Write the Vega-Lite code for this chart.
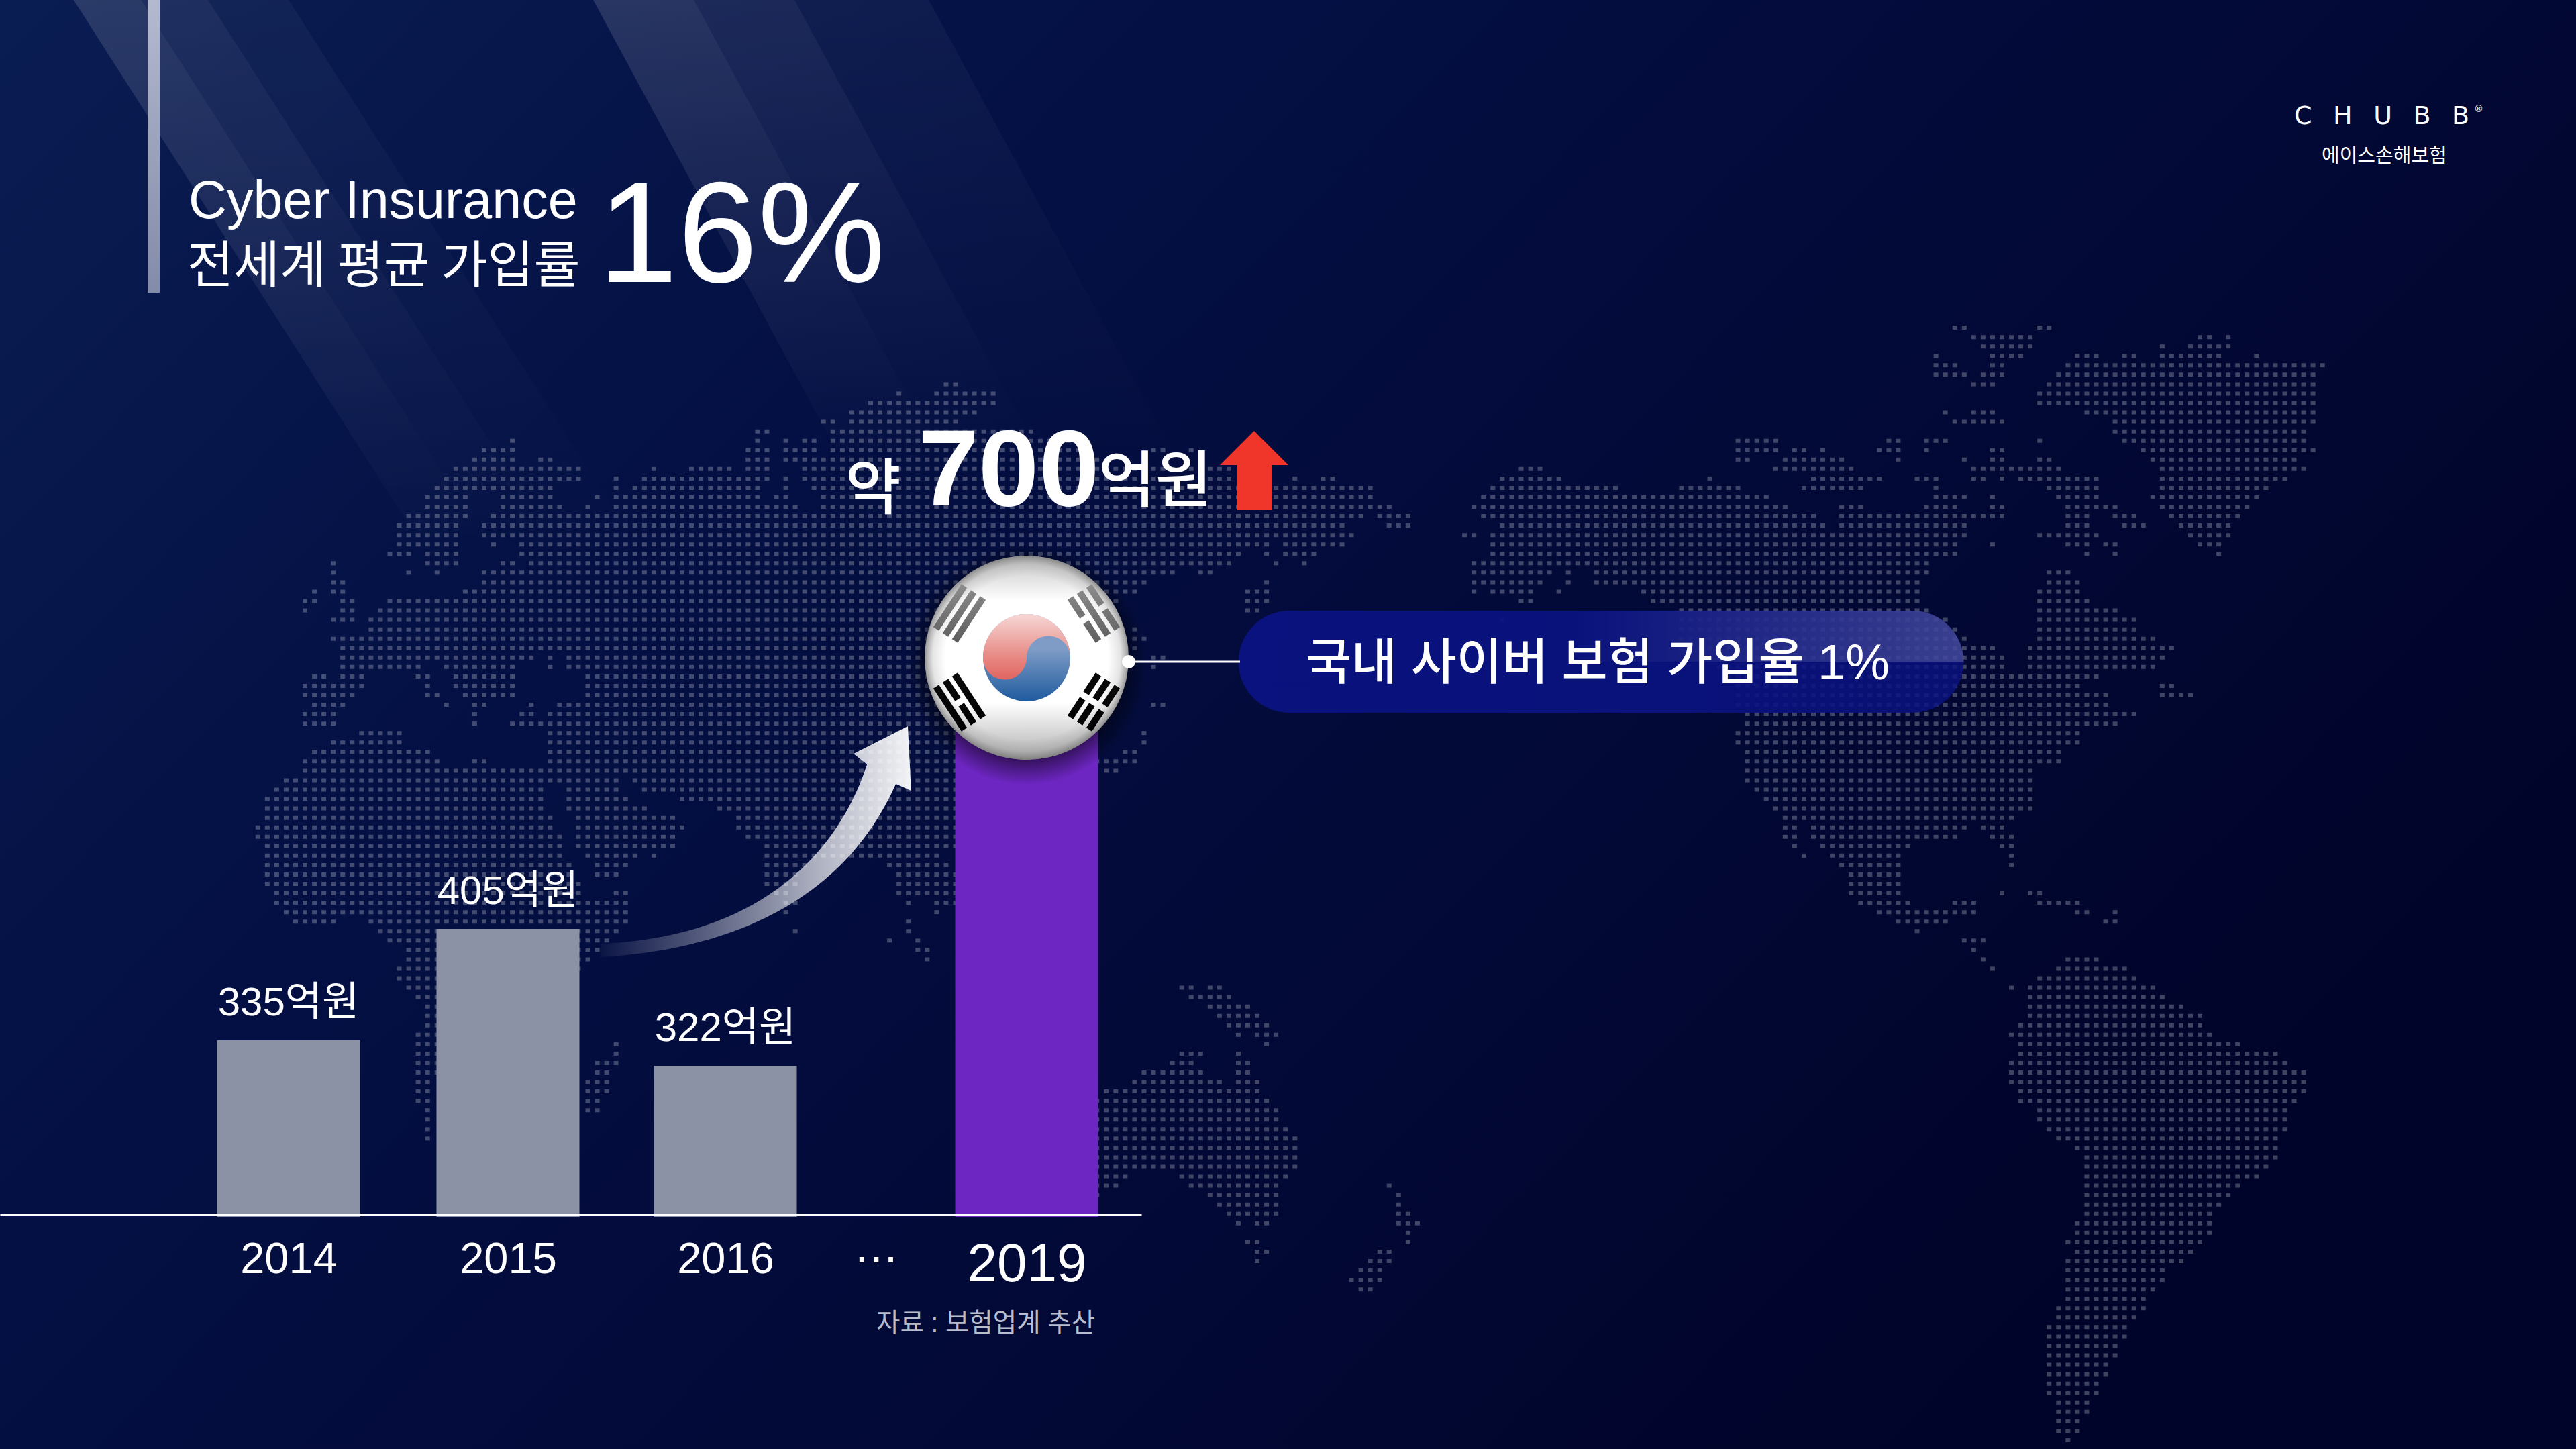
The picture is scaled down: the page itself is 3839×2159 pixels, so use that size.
{
"$schema":"https://vega.github.io/schema/vega-lite/v6.json",
"width":3839,"height":2159,"padding":0,"autosize":"none","background":"#020835",
"config":{"view":{"stroke":null}},
"resolve":{"scale":{"x":"independent","y":"independent"}},
"layer":[
{"data":{"values":[{}]},"layer":[
{"mark":{"type":"rect","fill":{"gradient":"linear","x1":0,"y1":0,"x2":1,"y2":0.55,"stops":[{"offset":0,"color":"#0a1d52"},{"offset":0.35,"color":"#041044"},{"offset":0.7,"color":"#020936"},{"offset":1,"color":"#01042a"}]}},
"encoding":{"x":{"datum":0,"type":"quantitative","axis":null,"scale":{"domain":[0,1],"nice":false}},"x2":{"datum":1},"y":{"datum":0,"type":"quantitative","axis":null,"scale":{"domain":[1,0],"nice":false}},"y2":{"datum":1}}},
{"mark":{"type":"point","filled":true,"opacity":1,"strokeWidth":0,"size":810000,"shape":"M-.756,-.922L-.533,-.922L.644,.922L.422,.922Z","fill":{"gradient":"linear","x1":0,"y1":0,"x2":0,"y2":1,"stops":[{"offset":0,"color":"rgba(255,255,255,0.05)"},{"offset":1,"color":"rgba(255,255,255,0)"}]}},
"encoding":{"x":{"datum":0.1172,"type":"quantitative","axis":null},"y":{"datum":0.1922,"type":"quantitative","axis":null}}},
{"mark":{"type":"point","filled":true,"opacity":1,"strokeWidth":0,"size":810000,"shape":"M-.756,-.922L-.311,-.922L.867,.922L.422,.922Z","fill":{"gradient":"linear","x1":0,"y1":0,"x2":0,"y2":1,"stops":[{"offset":0,"color":"rgba(255,255,255,0.05)"},{"offset":1,"color":"rgba(255,255,255,0)"}]}},
"encoding":{"x":{"datum":0.1172,"type":"quantitative","axis":null},"y":{"datum":0.1922,"type":"quantitative","axis":null}}},
{"mark":{"type":"point","filled":true,"opacity":1,"strokeWidth":0,"size":810000,"shape":"M-.756,-.922L-.044,-.922L1.133,.922L.422,.922Z","fill":{"gradient":"linear","x1":0,"y1":0,"x2":0,"y2":1,"stops":[{"offset":0,"color":"rgba(255,255,255,0.04)"},{"offset":1,"color":"rgba(255,255,255,0)"}]}},
"encoding":{"x":{"datum":0.1172,"type":"quantitative","axis":null},"y":{"datum":0.1922,"type":"quantitative","axis":null}}},
{"mark":{"type":"point","filled":true,"opacity":1,"strokeWidth":0,"size":640000,"shape":"M-.8325,-.875L-.4575,-.875L.4875,.875L.1125,.875Z","fill":{"gradient":"linear","x1":0,"y1":0,"x2":0,"y2":1,"stops":[{"offset":0,"color":"rgba(255,255,255,0.05)"},{"offset":1,"color":"rgba(255,255,255,0)"}]}},
"encoding":{"x":{"datum":0.317,"type":"quantitative","axis":null},"y":{"datum":0.162,"type":"quantitative","axis":null}}},
{"mark":{"type":"point","filled":true,"opacity":1,"strokeWidth":0,"size":640000,"shape":"M-.8325,-.875L-.0825,-.875L.8625,.875L.1125,.875Z","fill":{"gradient":"linear","x1":0,"y1":0,"x2":0,"y2":1,"stops":[{"offset":0,"color":"rgba(255,255,255,0.05)"},{"offset":1,"color":"rgba(255,255,255,0)"}]}},
"encoding":{"x":{"datum":0.317,"type":"quantitative","axis":null},"y":{"datum":0.162,"type":"quantitative","axis":null}}},
{"mark":{"type":"point","filled":true,"opacity":1,"strokeWidth":0,"size":640000,"shape":"M-.8325,-.875L.4175,-.875L1.3625,.875L.1125,.875Z","fill":{"gradient":"linear","x1":0,"y1":0,"x2":0,"y2":1,"stops":[{"offset":0,"color":"rgba(255,255,255,0.04)"},{"offset":1,"color":"rgba(255,255,255,0)"}]}},
"encoding":{"x":{"datum":0.317,"type":"quantitative","axis":null},"y":{"datum":0.162,"type":"quantitative","axis":null}}}
]},
{"data":{"values":[
{"row":-12,"c1":182,"c2":184},{"row":-12,"c1":191,"c2":193},
{"row":-11,"c1":184,"c2":191},{"row":-11,"c1":208,"c2":210},{"row":-11,"c1":211,"c2":212},
{"row":-10,"c1":185,"c2":191},{"row":-10,"c1":204,"c2":205},{"row":-10,"c1":207,"c2":212},
{"row":-9,"c1":180,"c2":181},{"row":-9,"c1":186,"c2":190},{"row":-9,"c1":195,"c2":198},{"row":-9,"c1":200,"c2":202},{"row":-9,"c1":204,"c2":211},{"row":-9,"c1":214,"c2":215},
{"row":-8,"c1":180,"c2":183},{"row":-8,"c1":186,"c2":188},{"row":-8,"c1":194,"c2":222},
{"row":-7,"c1":180,"c2":184},{"row":-7,"c1":185,"c2":188},{"row":-7,"c1":193,"c2":221},
{"row":-6,"c1":75,"c2":77},{"row":-6,"c1":184,"c2":187},{"row":-6,"c1":192,"c2":221},
{"row":-5,"c1":70,"c2":71},{"row":-5,"c1":74,"c2":81},{"row":-5,"c1":191,"c2":221},
{"row":-4,"c1":67,"c2":81},{"row":-4,"c1":191,"c2":221},
{"row":-3,"c1":65,"c2":79},{"row":-3,"c1":181,"c2":182},{"row":-3,"c1":184,"c2":187},{"row":-3,"c1":196,"c2":221},
{"row":-2,"c1":62,"c2":64},{"row":-2,"c1":65,"c2":77},{"row":-2,"c1":182,"c2":188},{"row":-2,"c1":199,"c2":221},
{"row":-1,"c1":55,"c2":57},{"row":-1,"c1":63,"c2":85},{"row":-1,"c1":199,"c2":220},
{"row":0,"c1":29,"c2":30},{"row":0,"c1":55,"c2":56},{"row":0,"c1":58,"c2":59},{"row":0,"c1":60,"c2":62},{"row":0,"c1":63,"c2":90},{"row":0,"c1":159,"c2":164},{"row":0,"c1":175,"c2":177},{"row":0,"c1":179,"c2":182},{"row":0,"c1":191,"c2":192},{"row":0,"c1":200,"c2":220},
{"row":1,"c1":26,"c2":30},{"row":1,"c1":54,"c2":57},{"row":1,"c1":58,"c2":62},{"row":1,"c1":63,"c2":90},{"row":1,"c1":97,"c2":99},{"row":1,"c1":101,"c2":102},{"row":1,"c1":159,"c2":164},{"row":1,"c1":165,"c2":167},{"row":1,"c1":168,"c2":169},{"row":1,"c1":174,"c2":177},{"row":1,"c1":179,"c2":180},{"row":1,"c1":186,"c2":188},{"row":1,"c1":202,"c2":221},
{"row":2,"c1":25,"c2":30},{"row":2,"c1":32,"c2":34},{"row":2,"c1":54,"c2":57},{"row":2,"c1":58,"c2":92},{"row":2,"c1":159,"c2":161},{"row":2,"c1":164,"c2":171},{"row":2,"c1":176,"c2":177},{"row":2,"c1":183,"c2":184},{"row":2,"c1":186,"c2":188},{"row":2,"c1":191,"c2":193},{"row":2,"c1":203,"c2":219},
{"row":3,"c1":23,"c2":37},{"row":3,"c1":44,"c2":45},{"row":3,"c1":48,"c2":53},{"row":3,"c1":54,"c2":57},{"row":3,"c1":60,"c2":106},{"row":3,"c1":136,"c2":139},{"row":3,"c1":163,"c2":172},{"row":3,"c1":184,"c2":194},{"row":3,"c1":204,"c2":220},
{"row":4,"c1":22,"c2":37},{"row":4,"c1":40,"c2":41},{"row":4,"c1":43,"c2":57},{"row":4,"c1":58,"c2":59},{"row":4,"c1":60,"c2":106},{"row":4,"c1":112,"c2":113},{"row":4,"c1":115,"c2":117},{"row":4,"c1":134,"c2":141},{"row":4,"c1":156,"c2":157},{"row":4,"c1":167,"c2":175},{"row":4,"c1":178,"c2":181},{"row":4,"c1":184,"c2":186},{"row":4,"c1":187,"c2":188},{"row":4,"c1":189,"c2":198},{"row":4,"c1":204,"c2":218},
{"row":5,"c1":21,"c2":34},{"row":5,"c1":40,"c2":41},{"row":5,"c1":42,"c2":56},{"row":5,"c1":58,"c2":59},{"row":5,"c1":61,"c2":121},{"row":5,"c1":133,"c2":147},{"row":5,"c1":153,"c2":160},{"row":5,"c1":166,"c2":173},{"row":5,"c1":180,"c2":181},{"row":5,"c1":192,"c2":198},{"row":5,"c1":204,"c2":216},
{"row":6,"c1":20,"c2":25},{"row":6,"c1":28,"c2":34},{"row":6,"c1":38,"c2":39},{"row":6,"c1":40,"c2":56},{"row":6,"c1":57,"c2":59},{"row":6,"c1":62,"c2":121},{"row":6,"c1":132,"c2":163},{"row":6,"c1":180,"c2":184},{"row":6,"c1":186,"c2":187},{"row":6,"c1":193,"c2":198},{"row":6,"c1":203,"c2":215},
{"row":7,"c1":20,"c2":25},{"row":7,"c1":28,"c2":35},{"row":7,"c1":37,"c2":38},{"row":7,"c1":40,"c2":60},{"row":7,"c1":62,"c2":123},{"row":7,"c1":131,"c2":165},{"row":7,"c1":170,"c2":173},{"row":7,"c1":179,"c2":183},{"row":7,"c1":186,"c2":188},{"row":7,"c1":194,"c2":200},{"row":7,"c1":204,"c2":214},
{"row":8,"c1":18,"c2":25},{"row":8,"c1":27,"c2":120},{"row":8,"c1":121,"c2":125},{"row":8,"c1":132,"c2":168},{"row":8,"c1":170,"c2":188},{"row":8,"c1":194,"c2":197},{"row":8,"c1":199,"c2":202},{"row":8,"c1":205,"c2":213},
{"row":9,"c1":17,"c2":24},{"row":9,"c1":26,"c2":118},{"row":9,"c1":122,"c2":125},{"row":9,"c1":134,"c2":169},{"row":9,"c1":170,"c2":184},{"row":9,"c1":194,"c2":197},{"row":9,"c1":200,"c2":203},{"row":9,"c1":206,"c2":212},
{"row":10,"c1":17,"c2":24},{"row":10,"c1":26,"c2":119},{"row":10,"c1":130,"c2":132},{"row":10,"c1":133,"c2":184},{"row":10,"c1":191,"c2":198},{"row":10,"c1":207,"c2":212},
{"row":11,"c1":17,"c2":24},{"row":11,"c1":27,"c2":28},{"row":11,"c1":30,"c2":110},{"row":11,"c1":111,"c2":118},{"row":11,"c1":133,"c2":183},{"row":11,"c1":186,"c2":187},{"row":11,"c1":194,"c2":197},{"row":11,"c1":198,"c2":200},{"row":11,"c1":208,"c2":211},
{"row":12,"c1":16,"c2":19},{"row":12,"c1":20,"c2":24},{"row":12,"c1":30,"c2":107},{"row":12,"c1":109,"c2":110},{"row":12,"c1":111,"c2":115},{"row":12,"c1":133,"c2":183},{"row":12,"c1":196,"c2":197},{"row":12,"c1":199,"c2":200},{"row":12,"c1":210,"c2":211},
{"row":13,"c1":10,"c2":11},{"row":13,"c1":20,"c2":24},{"row":13,"c1":28,"c2":30},{"row":13,"c1":31,"c2":106},{"row":13,"c1":110,"c2":111},{"row":13,"c1":113,"c2":114},{"row":13,"c1":131,"c2":180},
{"row":14,"c1":10,"c2":11},{"row":14,"c1":18,"c2":19},{"row":14,"c1":21,"c2":22},{"row":14,"c1":26,"c2":100},{"row":14,"c1":102,"c2":104},{"row":14,"c1":131,"c2":140},{"row":14,"c1":141,"c2":142},{"row":14,"c1":144,"c2":180},{"row":14,"c1":192,"c2":195},
{"row":15,"c1":10,"c2":12},{"row":15,"c1":26,"c2":97},{"row":15,"c1":109,"c2":110},{"row":15,"c1":131,"c2":139},{"row":15,"c1":141,"c2":142},{"row":15,"c1":144,"c2":179},{"row":15,"c1":192,"c2":196},
{"row":16,"c1":8,"c2":9},{"row":16,"c1":10,"c2":12},{"row":16,"c1":24,"c2":96},{"row":16,"c1":107,"c2":110},{"row":16,"c1":131,"c2":132},{"row":16,"c1":133,"c2":138},{"row":16,"c1":140,"c2":141},{"row":16,"c1":149,"c2":179},{"row":16,"c1":191,"c2":196},
{"row":17,"c1":7,"c2":9},{"row":17,"c1":11,"c2":13},{"row":17,"c1":16,"c2":94},{"row":17,"c1":107,"c2":110},{"row":17,"c1":136,"c2":138},{"row":17,"c1":150,"c2":179},{"row":17,"c1":191,"c2":197},
{"row":18,"c1":7,"c2":8},{"row":18,"c1":11,"c2":13},{"row":18,"c1":15,"c2":93},{"row":18,"c1":107,"c2":109},{"row":18,"c1":153,"c2":180},{"row":18,"c1":191,"c2":200},
{"row":19,"c1":10,"c2":13},{"row":19,"c1":14,"c2":91},{"row":19,"c1":134,"c2":135},{"row":19,"c1":153,"c2":182},{"row":19,"c1":191,"c2":202},
{"row":20,"c1":14,"c2":91},{"row":20,"c1":95,"c2":96},{"row":20,"c1":153,"c2":183},{"row":20,"c1":191,"c2":202},
{"row":21,"c1":10,"c2":91},{"row":21,"c1":95,"c2":97},{"row":21,"c1":153,"c2":184},{"row":21,"c1":191,"c2":204},
{"row":22,"c1":11,"c2":91},{"row":22,"c1":95,"c2":96},{"row":22,"c1":153,"c2":187},{"row":22,"c1":190,"c2":206},
{"row":23,"c1":11,"c2":32},{"row":23,"c1":33,"c2":34},{"row":23,"c1":35,"c2":91},{"row":23,"c1":97,"c2":99},{"row":23,"c1":155,"c2":188},{"row":23,"c1":190,"c2":205},
{"row":24,"c1":11,"c2":20},{"row":24,"c1":22,"c2":30},{"row":24,"c1":33,"c2":34},{"row":24,"c1":35,"c2":91},{"row":24,"c1":97,"c2":98},{"row":24,"c1":157,"c2":188},{"row":24,"c1":190,"c2":204},
{"row":25,"c1":8,"c2":10},{"row":25,"c1":11,"c2":14},{"row":25,"c1":19,"c2":21},{"row":25,"c1":23,"c2":30},{"row":25,"c1":37,"c2":91},{"row":25,"c1":158,"c2":198},
{"row":26,"c1":7,"c2":14},{"row":26,"c1":20,"c2":21},{"row":26,"c1":23,"c2":30},{"row":26,"c1":37,"c2":91},{"row":26,"c1":159,"c2":196},{"row":26,"c1":204,"c2":206},
{"row":27,"c1":7,"c2":13},{"row":27,"c1":20,"c2":22},{"row":27,"c1":24,"c2":30},{"row":27,"c1":37,"c2":91},{"row":27,"c1":159,"c2":199},{"row":27,"c1":204,"c2":208},
{"row":28,"c1":8,"c2":12},{"row":28,"c1":22,"c2":23},{"row":28,"c1":25,"c2":27},{"row":28,"c1":31,"c2":32},{"row":28,"c1":34,"c2":91},{"row":28,"c1":97,"c2":99},{"row":28,"c1":159,"c2":199},
{"row":29,"c1":7,"c2":11},{"row":29,"c1":25,"c2":26},{"row":29,"c1":30,"c2":32},{"row":29,"c1":33,"c2":91},{"row":29,"c1":160,"c2":202},
{"row":30,"c1":7,"c2":11},{"row":30,"c1":25,"c2":26},{"row":30,"c1":29,"c2":91},{"row":30,"c1":160,"c2":200},
{"row":31,"c1":13,"c2":18},{"row":31,"c1":33,"c2":91},{"row":31,"c1":96,"c2":97},{"row":31,"c1":159,"c2":196},
{"row":32,"c1":10,"c2":18},{"row":32,"c1":33,"c2":91},{"row":32,"c1":96,"c2":97},{"row":32,"c1":159,"c2":196},
{"row":33,"c1":8,"c2":21},{"row":33,"c1":33,"c2":91},{"row":33,"c1":94,"c2":96},{"row":33,"c1":160,"c2":194},
{"row":34,"c1":7,"c2":22},{"row":34,"c1":25,"c2":27},{"row":34,"c1":33,"c2":96},{"row":34,"c1":160,"c2":194},
{"row":35,"c1":7,"c2":91},{"row":35,"c1":92,"c2":94},{"row":35,"c1":160,"c2":191},
{"row":36,"c1":5,"c2":41},{"row":36,"c1":42,"c2":81},{"row":36,"c1":160,"c2":191},
{"row":37,"c1":4,"c2":33},{"row":37,"c1":35,"c2":41},{"row":37,"c1":43,"c2":81},{"row":37,"c1":161,"c2":191},
{"row":38,"c1":3,"c2":33},{"row":38,"c1":35,"c2":42},{"row":38,"c1":47,"c2":81},{"row":38,"c1":162,"c2":191},
{"row":39,"c1":3,"c2":33},{"row":39,"c1":35,"c2":44},{"row":39,"c1":51,"c2":81},{"row":39,"c1":163,"c2":191},
{"row":40,"c1":3,"c2":34},{"row":40,"c1":36,"c2":47},{"row":40,"c1":53,"c2":81},{"row":40,"c1":164,"c2":189},
{"row":41,"c1":2,"c2":34},{"row":41,"c1":36,"c2":48},{"row":41,"c1":53,"c2":79},{"row":41,"c1":164,"c2":166},{"row":41,"c1":167,"c2":184},{"row":41,"c1":185,"c2":188},
{"row":42,"c1":2,"c2":35},{"row":42,"c1":36,"c2":47},{"row":42,"c1":54,"c2":79},{"row":42,"c1":164,"c2":166},{"row":42,"c1":167,"c2":183},{"row":42,"c1":186,"c2":189},
{"row":43,"c1":3,"c2":35},{"row":43,"c1":36,"c2":47},{"row":43,"c1":56,"c2":79},{"row":43,"c1":165,"c2":166},{"row":43,"c1":168,"c2":178},{"row":43,"c1":187,"c2":189},
{"row":44,"c1":3,"c2":35},{"row":44,"c1":37,"c2":43},{"row":44,"c1":44,"c2":45},{"row":44,"c1":56,"c2":75},{"row":44,"c1":166,"c2":167},{"row":44,"c1":169,"c2":177},{"row":44,"c1":188,"c2":189},
{"row":45,"c1":3,"c2":36},{"row":45,"c1":38,"c2":42},{"row":45,"c1":56,"c2":61},{"row":45,"c1":69,"c2":76},{"row":45,"c1":170,"c2":177},{"row":45,"c1":188,"c2":189},
{"row":46,"c1":3,"c2":36},{"row":46,"c1":38,"c2":41},{"row":46,"c1":56,"c2":60},{"row":46,"c1":70,"c2":79},{"row":46,"c1":171,"c2":177},
{"row":47,"c1":3,"c2":37},{"row":47,"c1":56,"c2":60},{"row":47,"c1":70,"c2":79},{"row":47,"c1":171,"c2":177},
{"row":48,"c1":4,"c2":37},{"row":48,"c1":40,"c2":42},{"row":48,"c1":57,"c2":59},{"row":48,"c1":70,"c2":79},{"row":48,"c1":171,"c2":177},{"row":48,"c1":187,"c2":188},{"row":48,"c1":190,"c2":192},
{"row":49,"c1":4,"c2":42},{"row":49,"c1":58,"c2":60},{"row":49,"c1":71,"c2":72},{"row":49,"c1":74,"c2":79},{"row":49,"c1":172,"c2":178},{"row":49,"c1":182,"c2":185},{"row":49,"c1":191,"c2":196},
{"row":50,"c1":5,"c2":42},{"row":50,"c1":58,"c2":59},{"row":50,"c1":74,"c2":75},{"row":50,"c1":174,"c2":185},{"row":50,"c1":195,"c2":197},{"row":50,"c1":199,"c2":200},
{"row":51,"c1":6,"c2":11},{"row":51,"c1":14,"c2":42},{"row":51,"c1":71,"c2":72},{"row":51,"c1":176,"c2":182},{"row":51,"c1":198,"c2":200},
{"row":52,"c1":15,"c2":41},{"row":52,"c1":59,"c2":60},{"row":52,"c1":71,"c2":72},{"row":52,"c1":178,"c2":179},
{"row":53,"c1":16,"c2":40},{"row":53,"c1":69,"c2":70},{"row":53,"c1":72,"c2":73},{"row":53,"c1":183,"c2":186},
{"row":54,"c1":18,"c2":39},{"row":54,"c1":72,"c2":74},{"row":54,"c1":184,"c2":185},
{"row":55,"c1":18,"c2":38},{"row":55,"c1":73,"c2":74},{"row":55,"c1":185,"c2":186},{"row":55,"c1":194,"c2":198},
{"row":56,"c1":17,"c2":37},{"row":56,"c1":186,"c2":187},{"row":56,"c1":193,"c2":201},
{"row":57,"c1":17,"c2":23},{"row":57,"c1":191,"c2":202},
{"row":58,"c1":18,"c2":23},{"row":58,"c1":100,"c2":102},{"row":58,"c1":103,"c2":105},{"row":58,"c1":188,"c2":189},{"row":58,"c1":190,"c2":204},
{"row":59,"c1":19,"c2":23},{"row":59,"c1":101,"c2":106},{"row":59,"c1":190,"c2":205},
{"row":60,"c1":20,"c2":23},{"row":60,"c1":103,"c2":108},{"row":60,"c1":190,"c2":207},
{"row":61,"c1":20,"c2":23},{"row":61,"c1":104,"c2":109},{"row":61,"c1":190,"c2":209},
{"row":62,"c1":20,"c2":23},{"row":62,"c1":105,"c2":110},{"row":62,"c1":189,"c2":209},
{"row":63,"c1":19,"c2":23},{"row":63,"c1":106,"c2":107},{"row":63,"c1":108,"c2":111},{"row":63,"c1":188,"c2":210},
{"row":64,"c1":19,"c2":23},{"row":64,"c1":40,"c2":41},{"row":64,"c1":109,"c2":110},{"row":64,"c1":189,"c2":213},
{"row":65,"c1":19,"c2":22},{"row":65,"c1":40,"c2":41},{"row":65,"c1":100,"c2":103},{"row":65,"c1":106,"c2":107},{"row":65,"c1":189,"c2":217},
{"row":66,"c1":19,"c2":22},{"row":66,"c1":38,"c2":41},{"row":66,"c1":99,"c2":102},{"row":66,"c1":106,"c2":108},{"row":66,"c1":188,"c2":218},
{"row":67,"c1":19,"c2":22},{"row":67,"c1":38,"c2":40},{"row":67,"c1":96,"c2":103},{"row":67,"c1":106,"c2":108},{"row":67,"c1":188,"c2":220},
{"row":68,"c1":19,"c2":21},{"row":68,"c1":37,"c2":40},{"row":68,"c1":95,"c2":105},{"row":68,"c1":106,"c2":109},{"row":68,"c1":188,"c2":220},
{"row":69,"c1":19,"c2":21},{"row":69,"c1":37,"c2":40},{"row":69,"c1":92,"c2":109},{"row":69,"c1":189,"c2":220},
{"row":70,"c1":19,"c2":21},{"row":70,"c1":37,"c2":39},{"row":70,"c1":89,"c2":110},{"row":70,"c1":189,"c2":219},
{"row":71,"c1":20,"c2":21},{"row":71,"c1":37,"c2":39},{"row":71,"c1":89,"c2":111},{"row":71,"c1":191,"c2":218},
{"row":72,"c1":20,"c2":21},{"row":72,"c1":89,"c2":111},{"row":72,"c1":191,"c2":218},
{"row":73,"c1":20,"c2":21},{"row":73,"c1":89,"c2":112},{"row":73,"c1":192,"c2":218},
{"row":74,"c1":20,"c2":21},{"row":74,"c1":89,"c2":113},{"row":74,"c1":193,"c2":217},
{"row":75,"c1":89,"c2":113},{"row":75,"c1":195,"c2":217},
{"row":76,"c1":89,"c2":113},{"row":76,"c1":196,"c2":217},
{"row":77,"c1":89,"c2":113},{"row":77,"c1":196,"c2":216},
{"row":78,"c1":89,"c2":95},{"row":78,"c1":100,"c2":112},{"row":78,"c1":196,"c2":215},
{"row":79,"c1":89,"c2":94},{"row":79,"c1":101,"c2":111},{"row":79,"c1":122,"c2":123},{"row":79,"c1":196,"c2":213},
{"row":80,"c1":89,"c2":92},{"row":80,"c1":103,"c2":111},{"row":80,"c1":123,"c2":124},{"row":80,"c1":196,"c2":212},
{"row":81,"c1":104,"c2":111},{"row":81,"c1":123,"c2":124},{"row":81,"c1":196,"c2":211},
{"row":82,"c1":105,"c2":111},{"row":82,"c1":123,"c2":125},{"row":82,"c1":196,"c2":210},
{"row":83,"c1":106,"c2":107},{"row":83,"c1":108,"c2":110},{"row":83,"c1":123,"c2":126},{"row":83,"c1":195,"c2":210},
{"row":84,"c1":124,"c2":125},{"row":84,"c1":195,"c2":210},
{"row":85,"c1":107,"c2":109},{"row":85,"c1":124,"c2":125},{"row":85,"c1":194,"c2":209},
{"row":86,"c1":108,"c2":110},{"row":86,"c1":121,"c2":123},{"row":86,"c1":195,"c2":208},
{"row":87,"c1":108,"c2":109},{"row":87,"c1":120,"c2":123},{"row":87,"c1":194,"c2":207},
{"row":88,"c1":119,"c2":122},{"row":88,"c1":194,"c2":205},
{"row":89,"c1":118,"c2":122},{"row":89,"c1":194,"c2":205},
{"row":90,"c1":119,"c2":121},{"row":90,"c1":194,"c2":204},
{"row":91,"c1":194,"c2":203},{"row":92,"c1":193,"c2":203},{"row":93,"c1":193,"c2":202},{"row":94,"c1":192,"c2":201},{"row":95,"c1":192,"c2":201},{"row":96,"c1":192,"c2":200},{"row":97,"c1":192,"c2":200},{"row":98,"c1":192,"c2":199},{"row":99,"c1":192,"c2":199},{"row":100,"c1":192,"c2":198},{"row":101,"c1":192,"c2":198},{"row":102,"c1":193,"c2":197},{"row":103,"c1":193,"c2":197},{"row":104,"c1":193,"c2":196},{"row":105,"c1":193,"c2":196},{"row":106,"c1":194,"c2":195}
]},
"mark":{"type":"rule","stroke":"#ffffff","strokeOpacity":0.25,"strokeWidth":6,"strokeDash":[7,7.05]},
"encoding":{"x":{"field":"c1","type":"quantitative","axis":null,"scale":{"domain":[-25.103,248.14],"nice":false,"zero":false}},"x2":{"field":"c2"},"y":{"field":"row","type":"quantitative","axis":null,"scale":{"domain":[106.93,-46.74],"nice":false,"zero":false}}}},
{"data":{"values":[{"year":2014,"amount":335},{"year":2015,"amount":405},{"year":2016,"amount":322},{"year":2019,"amount":700}]},
"mark":{"type":"bar","orient":"vertical","size":213},
"encoding":{
"x":{"field":"year","type":"quantitative","scale":{"domain":[2012.685,2014,2015,2016,2019,2019.382],"range":[0,430,757,1081,1530,1701],"nice":false,"zero":false},
"axis":{"values":[2014,2015,2016,2017.5,2019],"labelExpr":"datum.value==2017.5?'⋯':datum.value","title":null,"grid":false,"ticks":false,"domainColor":"#ffffff","domainWidth":3,"offset":-349,"labelColor":"#ffffff","labelFont":"Liberation Sans, DejaVu Sans","labelFontSize":{"condition":{"test":"datum.value==2019","value":80},"value":65},"labelPadding":35,"labelBaseline":"top","labelOverlap":false,"labelBound":false,"labelFlush":false,"zindex":1}},
"y":{"field":"amount","type":"quantitative","stack":null,"axis":null,"scale":{"domain":[0,322,335,405,700],"range":[1813,1588,1550,1384,1090],"nice":false,"zero":false}},
"y2":{"datum":0},
"color":{"condition":{"test":"datum.year==2019","value":"#6d26c2"},"value":"#8c92a6"}}},
{"data":{"values":[{}]},"layer":[
{"data":{"values":[{"year":2014,"amount":335,"label":"335억원"},{"year":2015,"amount":405,"label":"405억원"},{"year":2016,"amount":322,"label":"322억원"}]},
"mark":{"type":"text","baseline":"alphabetic","dy":-37,"fontSize":60,"fill":"#ffffff","font":"Liberation Sans, Noto Sans CJK KR"},
"encoding":{"x":{"field":"year","type":"quantitative","axis":null,"scale":{"domain":[2012.685,2014,2015,2016,2019,2019.382],"range":[0,430,757,1081,1530,1701],"nice":false,"zero":false}},"y":{"field":"amount","type":"quantitative","axis":null,"scale":{"domain":[0,322,335,405,700],"range":[1813,1588,1550,1384,1090],"nice":false,"zero":false}},"text":{"field":"label"}}},
{"mark":{"type":"point","filled":true,"opacity":1,"strokeWidth":0,"size":190096,"shape":"M-.0413,-1L.0413,-1L.0413,1L-.0413,1Z","xOffset":-201,"yOffset":-872,"fill":{"gradient":"linear","x1":0,"y1":0,"x2":0,"y2":1,"stops":[{"offset":0,"color":"#b3bad0"},{"offset":1,"color":"#828ba8"}]}},
"encoding":{"x":{"datum":2014,"type":"quantitative","axis":null},"y":{"datum":700,"type":"quantitative","axis":null}}},
{"mark":{"type":"point","filled":true,"opacity":1,"strokeWidth":0,"size":1168561,"shape":"M-.859,-.1406L.859,-.1406A.1406,.1406 0 0 1 .859,.1406L-.859,.1406A.1406,.1406 0 0 1 -.859,-.1406Z","xOffset":856,"yOffset":-104,"fill":{"gradient":"linear","x1":0,"y1":0,"x2":1,"y2":0,"stops":[{"offset":0,"color":"rgba(10,18,128,0.98)"},{"offset":0.6,"color":"rgba(10,18,128,0.93)"},{"offset":1,"color":"rgba(10,18,128,0.82)"}]}},
"encoding":{"x":{"datum":2019,"type":"quantitative","axis":null},"y":{"datum":700,"type":"quantitative","axis":null}}},
{"mark":{"type":"point","filled":true,"opacity":1,"strokeWidth":0,"size":1168561,"shape":"M-.08,-.1406L.859,-.1406A.1406,.1406 0 0 1 1,0L-.08,0Z","xOffset":856,"yOffset":-104,"fill":{"gradient":"linear","x1":0,"y1":0,"x2":1,"y2":0,"stops":[{"offset":0,"color":"rgba(255,255,255,0)"},{"offset":1,"color":"rgba(255,255,255,0.2)"}]}},
"encoding":{"x":{"datum":2019,"type":"quantitative","axis":null},"y":{"datum":700,"type":"quantitative","axis":null}}},
{"mark":{"type":"point","filled":true,"opacity":1,"strokeWidth":0,"size":220900,"shape":"M.970,-.736L.991,-.328L.894,-.370C.75,-.05 .35,.65 -.979,.728L-.979,.643C.10,.60 .55,0 .711,-.494L.626,-.562Z","xOffset":368,"yOffset":-129,"fill":{"gradient":"linear","x1":0,"y1":0,"x2":1,"y2":0,"stops":[{"offset":0,"color":"rgba(255,255,255,0.03)"},{"offset":0.3,"color":"rgba(255,255,255,0.3)"},{"offset":0.7,"color":"rgba(255,255,255,0.68)"},{"offset":1,"color":"rgba(255,255,255,0.95)"}]}},
"encoding":{"x":{"datum":2015,"type":"quantitative","axis":null},"y":{"datum":405,"type":"quantitative","axis":null}}},
{"mark":{"type":"point","filled":true,"opacity":1,"strokeWidth":0,"size":128000,"shape":"circle","yOffset":-100,"fill":{"gradient":"radial","x1":0.5,"y1":0.5,"r1":0,"x2":0.5,"y2":0.5,"r2":0.5,"stops":[{"offset":0,"color":"rgba(0,0,0,0.5)"},{"offset":0.8,"color":"rgba(0,0,0,0.5)"},{"offset":1,"color":"rgba(0,0,0,0)"}]}},
"encoding":{"x":{"datum":2019,"type":"quantitative","axis":null},"y":{"datum":700,"type":"quantitative","axis":null}}},
{"mark":{"type":"point","filled":true,"opacity":1,"strokeWidth":0,"size":92416,"shape":"circle","yOffset":-110,"fill":{"gradient":"radial","x1":0.5,"y1":0.5,"r1":0,"x2":0.5,"y2":0.5,"r2":0.5,"stops":[{"offset":0,"color":"#ffffff"},{"offset":0.8,"color":"#ffffff"},{"offset":0.92,"color":"#e4e4e4"},{"offset":0.97,"color":"#b8b8b8"},{"offset":1,"color":"#969696"}]}},
"encoding":{"x":{"datum":2019,"type":"quantitative","axis":null},"y":{"datum":700,"type":"quantitative","axis":null}}},
{"mark":{"type":"point","filled":true,"opacity":1,"strokeWidth":0,"size":92416,"shape":"circle","yOffset":-110,"fill":{"gradient":"linear","x1":0,"y1":0,"x2":0,"y2":1,"stops":[{"offset":0,"color":"rgba(110,110,110,0.4)"},{"offset":0.22,"color":"rgba(110,110,110,0)"},{"offset":0.72,"color":"rgba(110,110,110,0)"},{"offset":1,"color":"rgba(110,110,110,0.55)"}]}},
"encoding":{"x":{"datum":2019,"type":"quantitative","axis":null},"y":{"datum":700,"type":"quantitative","axis":null}}},
{"mark":{"type":"point","filled":true,"opacity":1,"strokeWidth":0,"size":16900,"shape":"circle","yOffset":-110,"fill":{"gradient":"linear","x1":0,"y1":0,"x2":0,"y2":1,"stops":[{"offset":0.4,"color":"#7e9cc6"},{"offset":1,"color":"#1f5a9e"}]}},
"encoding":{"x":{"datum":2019,"type":"quantitative","axis":null},"y":{"datum":700,"type":"quantitative","axis":null}}},
{"mark":{"type":"point","filled":true,"opacity":1,"strokeWidth":0,"size":16900,"shape":"M-1,0A1,1 0 0 1 1,0A.5,.5 0 0 0 0,0A.5,.5 0 0 1 -1,0Z","yOffset":-110,"fill":{"gradient":"linear","x1":0,"y1":0,"x2":0,"y2":1,"stops":[{"offset":0,"color":"#f6d8d6"},{"offset":0.6,"color":"#e88f8a"},{"offset":1,"color":"#e2645f"}]}},
"encoding":{"x":{"datum":2019,"type":"quantitative","axis":null},"y":{"datum":700,"type":"quantitative","axis":null}}},
{"mark":{"type":"point","filled":false,"opacity":1,"strokeWidth":10,"size":92416,"yOffset":-110,"shape":"M-.888,-.283L-.612,-.704M-.796,-.224L-.520,-.645M-.704,-.164L-.428,-.586M.520,-.645L.796,-.224M.428,-.586L.549,-.401M.582,-.349L.704,-.164M.612,-.704L.734,-.520M.766,-.467L.888,-.283M-.704,.164L-.428,.586M-.888,.283L-.612,.704M-.796,.224L-.674,.408M-.641,.461L-.520,.645M.704,.164L.582,.349M.549,.401L.428,.586M.796,.224L.674,.408M.641,.461L.520,.645M.888,.283L.766,.467M.734,.520L.612,.704","stroke":{"gradient":"linear","x1":0,"y1":0,"x2":0,"y2":1,"stops":[{"offset":0,"color":"#8c8c8c"},{"offset":0.42,"color":"#5a5a5a"},{"offset":0.58,"color":"#0c0c0c"},{"offset":1,"color":"#000000"}]}},
"encoding":{"x":{"datum":2019,"type":"quantitative","axis":null},"y":{"datum":700,"type":"quantitative","axis":null}}},
{"mark":{"type":"point","filled":false,"opacity":1,"strokeWidth":3,"stroke":"#ffffff","size":27556,"shape":"M-1,0L1,0","xOffset":235,"yOffset":-104},
"encoding":{"x":{"datum":2019,"type":"quantitative","axis":null},"y":{"datum":700,"type":"quantitative","axis":null}}},
{"mark":{"type":"point","filled":true,"opacity":1,"strokeWidth":0,"fill":"#ffffff","size":400,"shape":"circle","xOffset":152,"yOffset":-104},
"encoding":{"x":{"datum":2019,"type":"quantitative","axis":null},"y":{"datum":700,"type":"quantitative","axis":null}}},
{"mark":{"type":"point","filled":true,"opacity":1,"strokeWidth":0,"fill":"#f0352b","size":14400,"shape":"M0,-.983L.85,-.133L.433,-.133L.433,.983L-.433,.983L-.433,-.133L-.85,-.133Z","xOffset":339,"yOffset":-389},
"encoding":{"x":{"datum":2019,"type":"quantitative","axis":null},"y":{"datum":700,"type":"quantitative","axis":null}}},
{"data":{"values":[{"label":"Cyber Insurance"}]},"mark":{"type":"text","align":"left","baseline":"alphabetic","dx":-149,"dy":-765,"fontSize":79,"fill":"#ffffff","font":"Liberation Sans, Noto Sans CJK KR"},"encoding":{"x":{"datum":2014,"type":"quantitative","axis":null},"y":{"datum":700,"type":"quantitative","axis":null},"text":{"field":"label"}}},
{"data":{"values":[{"label":"전세계 평균 가입률"}]},"mark":{"type":"text","align":"left","baseline":"alphabetic","dx":-151,"dy":-669,"fontSize":75,"fill":"#ffffff","font":"Noto Sans CJK KR"},"encoding":{"x":{"datum":2014,"type":"quantitative","axis":null},"y":{"datum":700,"type":"quantitative","axis":null},"text":{"field":"label"}}},
{"data":{"values":[{"label":"16%"}]},"mark":{"type":"text","align":"left","baseline":"alphabetic","dx":461,"dy":-670,"fontSize":214,"fill":"#ffffff","font":"Liberation Sans"},"encoding":{"x":{"datum":2014,"type":"quantitative","axis":null},"y":{"datum":700,"type":"quantitative","axis":null},"text":{"field":"label"}}},
{"data":{"values":[{"label":"약"}]},"mark":{"type":"text","align":"left","baseline":"alphabetic","dx":-270,"dy":-332,"fontSize":90,"fontWeight":500,"fill":"#ffffff","font":"Noto Sans CJK KR"},"encoding":{"x":{"datum":2019,"type":"quantitative","axis":null},"y":{"datum":700,"type":"quantitative","axis":null},"text":{"field":"label"}}},
{"data":{"values":[{"label":"700"}]},"mark":{"type":"text","align":"left","baseline":"alphabetic","dx":-162,"dy":-337,"fontSize":162,"fontWeight":700,"fill":"#ffffff","font":"Liberation Sans"},"encoding":{"x":{"datum":2019,"type":"quantitative","axis":null},"y":{"datum":700,"type":"quantitative","axis":null},"text":{"field":"label"}}},
{"data":{"values":[{"label":"억원"}]},"mark":{"type":"text","align":"left","baseline":"alphabetic","dx":107,"dy":-342,"fontSize":92,"fontWeight":500,"fill":"#ffffff","font":"Noto Sans CJK KR"},"encoding":{"x":{"datum":2019,"type":"quantitative","axis":null},"y":{"datum":700,"type":"quantitative","axis":null},"text":{"field":"label"}}},
{"data":{"values":[{"label":"국내 사이버 보험 가입율 1%"}]},"mark":{"type":"text","align":"left","baseline":"alphabetic","dx":416,"dy":-78,"fontSize":74,"fontWeight":500,"fill":"#ffffff","font":"Liberation Sans, Noto Sans CJK KR"},"encoding":{"x":{"datum":2019,"type":"quantitative","axis":null},"y":{"datum":700,"type":"quantitative","axis":null},"text":{"field":"label"}}},
{"data":{"values":[{"label":"자료 : 보험업계 추산"}]},"mark":{"type":"text","align":"left","baseline":"alphabetic","dx":-224,"dy":171,"fontSize":38.5,"fill":"#b9bdcc","font":"Liberation Sans, Noto Sans CJK KR"},"encoding":{"x":{"datum":2019,"type":"quantitative","axis":null},"y":{"datum":0,"type":"quantitative","axis":null},"text":{"field":"label"}}},
{"data":{"values":[{"label":"C\u2002\u2004H\u2002\u2004U\u2002\u2004B\u2002\u2004B"}]},"mark":{"type":"text","align":"left","baseline":"alphabetic","dx":1889,"dy":-905,"fontSize":38,"fill":"#ffffff","font":"DejaVu Sans"},"encoding":{"x":{"datum":2019,"type":"quantitative","axis":null},"y":{"datum":700,"type":"quantitative","axis":null},"text":{"field":"label"}}},
{"data":{"values":[{"label":"®"}]},"mark":{"type":"text","align":"left","baseline":"alphabetic","dx":2157,"dy":-923,"fontSize":14,"fill":"#ffffff","font":"DejaVu Sans"},"encoding":{"x":{"datum":2019,"type":"quantitative","axis":null},"y":{"datum":700,"type":"quantitative","axis":null},"text":{"field":"label"}}},
{"data":{"values":[{"label":"에이스손해보험"}]},"mark":{"type":"text","align":"left","baseline":"alphabetic","dx":1930,"dy":-848,"fontSize":29,"fill":"#ffffff","font":"Noto Sans CJK KR"},"encoding":{"x":{"datum":2019,"type":"quantitative","axis":null},"y":{"datum":700,"type":"quantitative","axis":null},"text":{"field":"label"}}}
]}
]}
